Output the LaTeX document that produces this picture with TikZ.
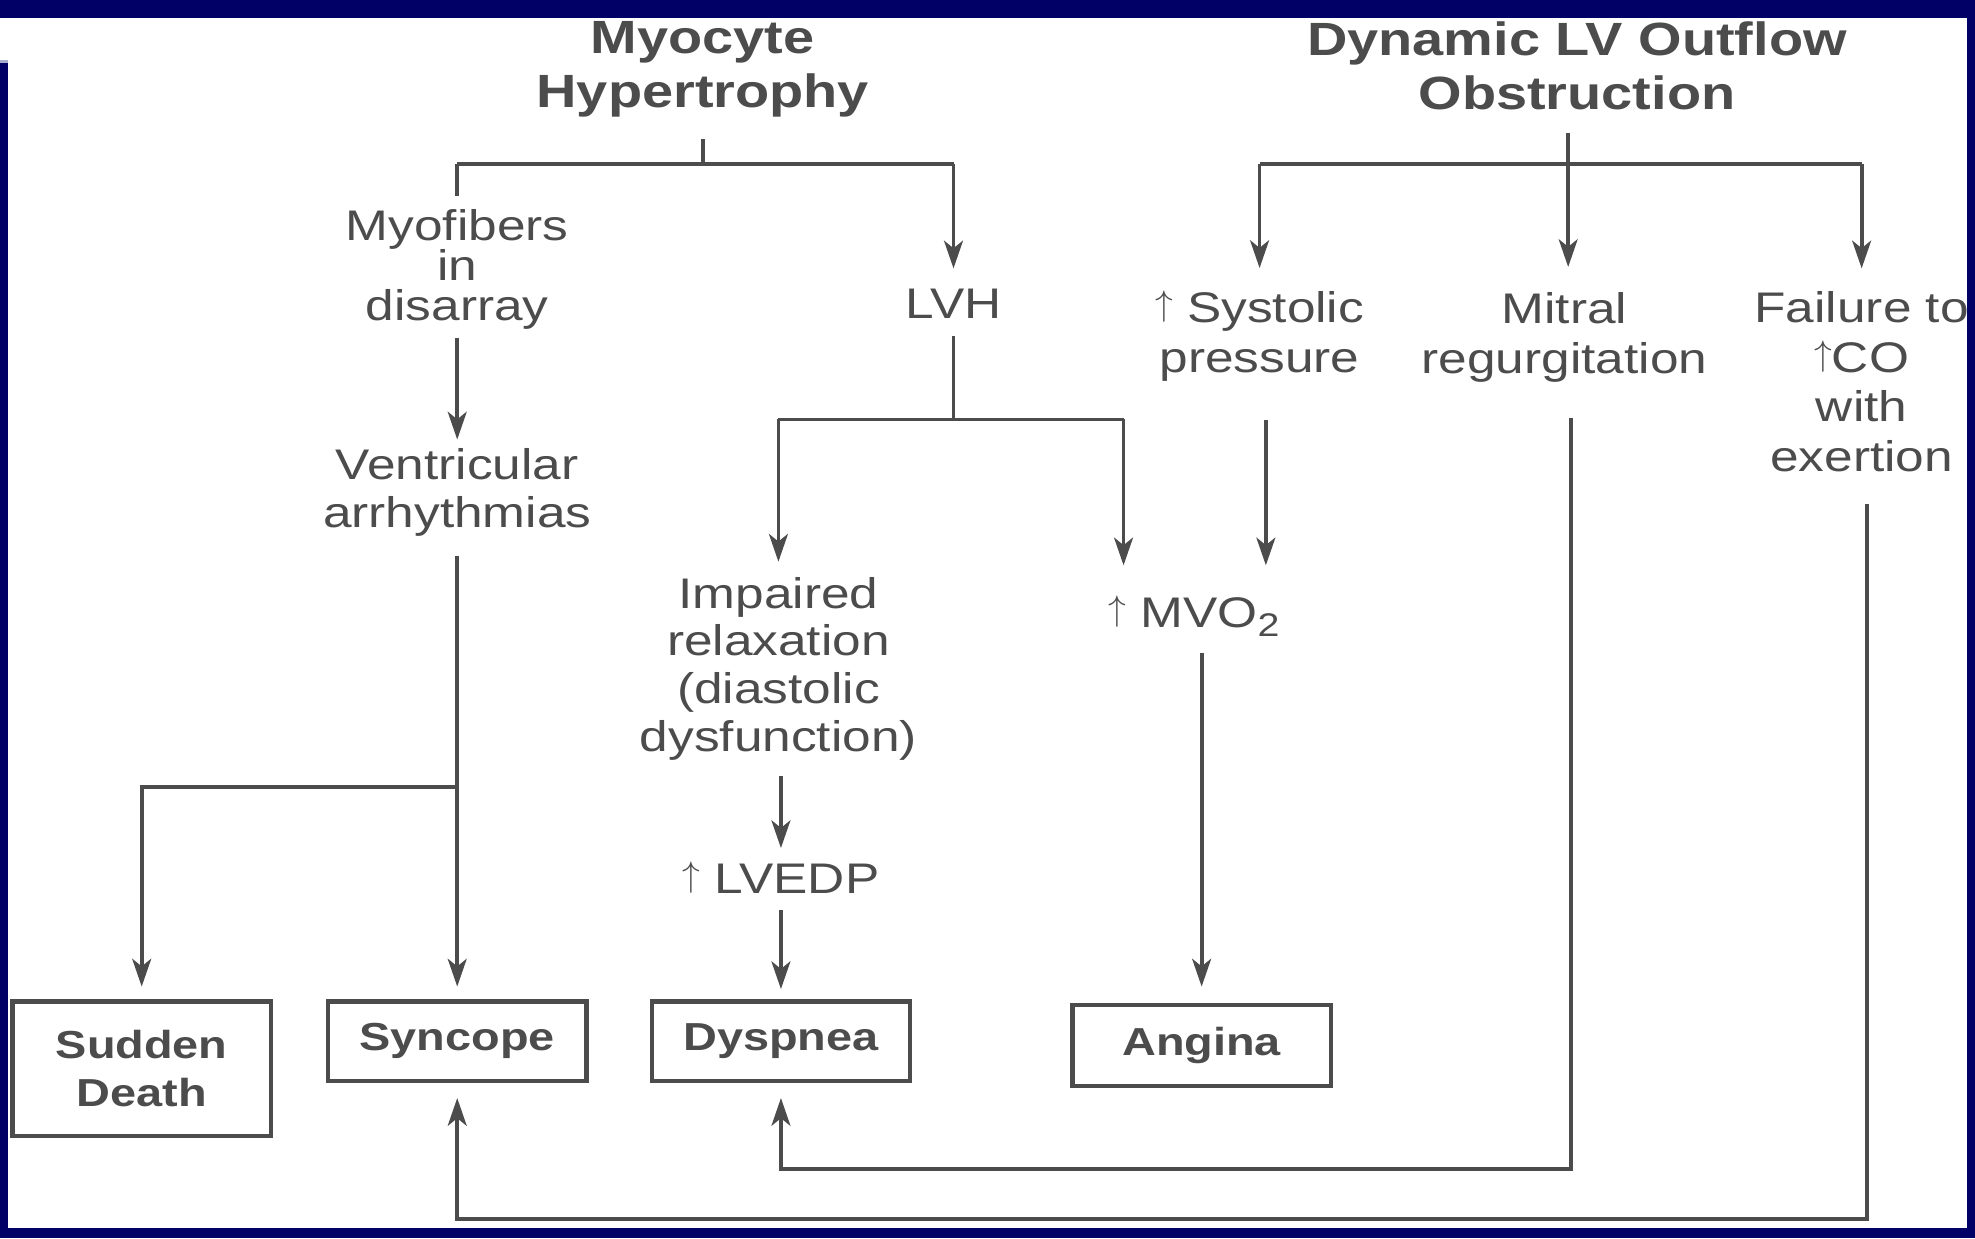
\documentclass[tikz,border=0pt]{standalone}
\usepackage{graphicx}
\usepackage{fontspec}
\setmainfont{Liberation Sans}[FakeStretch=1.2]
\usetikzlibrary{arrows.meta}
\definecolor{navy}{HTML}{000066}
\definecolor{ink}{HTML}{4C4C4C}
\definecolor{edge}{HTML}{A9AECF}
\newcommand{\upar}{\raisebox{5.4pt}{\resizebox*{!}{25pt}{$\uparrow$}}}
\newcommand{\subtwo}{\raisebox{-7pt}{\fontsize{26}{26}\selectfont 2}}
\begin{document}
\begin{tikzpicture}[x=1pt,y=-1pt,
  txt/.style={text=ink, align=center, inner sep=0pt, font=\fontsize{34}{38}\selectfont},
  ttl/.style={text=ink, align=center, inner sep=0pt, font=\fontsize{37}{43}\selectfont\bfseries},
  boxn/.style={draw=ink, line width=3.5pt, text=ink, align=center, inner sep=0pt, minimum width=205pt, font=\fontsize{31}{38}\selectfont\bfseries},
  ln/.style={draw=ink, line width=3pt},
  arr/.style={ln, -{Stealth[length=22pt,width=15pt,inset=6pt]}},
]
\useasboundingbox (0,0) rectangle (1568,983);
% slide background
\fill[navy] (0,0) rectangle (1568,983);
\fill[white] (6,14) rectangle (1562,975);
\fill[white] (0,14) rectangle (6,48);
\fill[edge] (0,48) rectangle (6,50);

% titles
\node[ttl] (t1) at (558,55) {Myocyte\\Hypertrophy};
\node[ttl] (t2) at (1252,52) {Dynamic LV Outflow\\Obstruction};

% text nodes
\node[txt, font=\fontsize{34}{32}\selectfont] (myo) at (363,214) {Myofibers\\in\\disarray};
\node[txt] (lvh) at (757,241) {LVH};
\node[txt] (vent) at (363,391) {Ventricular\\arrhythmias};
\node[txt, font=\fontsize{34}{40}\selectfont] (sys) at (1000,267) {\upar{} Systolic\\pressure};
\node[txt, font=\fontsize{34}{40}\selectfont] (mit) at (1242,268) {Mitral\\regurgitation};
\node[txt, font=\fontsize{34}{39.5}\selectfont] (fail) at (1478,303) {Failure to\\\upar{}CO\\with\\exertion};
\node[txt] (imp) at (618,531) {Impaired\\relaxation\\(diastolic\\dysfunction)};
\node[txt] (lvedp) at (620,697) {\upar{} LVEDP};
\node[txt] (mvo) at (948,489) {\upar{} MVO\subtwo};

% boxes
\node[boxn, minimum height=107pt] (sd) at (112.5,848.5) {Sudden\\Death};
\node[boxn, minimum height=63pt] (sync) at (363,826.5) {Syncope};
\node[boxn, minimum height=63pt] (dysp) at (620,826.5) {Dyspnea};
\node[boxn, minimum height=64pt] (ang) at (954,830) {Angina};

% junction coordinates
\coordinate (h1) at (558,130);
\coordinate (h1L) at (363,130);
\coordinate (h1R) at (757,130);
\coordinate (b1) at (363,625);
\coordinate (h2L) at (618,333);
\coordinate (h2R) at (892,333);
\coordinate (sx) at (1005,0);
\coordinate (h3M) at (1245,130);
\coordinate (h3L) at (1000,130);
\coordinate (h3R) at (1478,130);
\coordinate (mx) at (1247,928);
\coordinate (fx) at (1482,968);

% left tree
\draw[ln, shorten <=17pt] (t1.south) -- (h1);
\draw[ln] (h1L) -- (h1R);
\draw[ln, shorten >=10pt] (h1L) -- (myo.north);
\draw[arr, shorten >=16pt] (h1R) -- (lvh.north);
\draw[arr, shorten <=6pt, shorten >=7pt] (myo.south) -- (vent.north);
\draw[arr, shorten <=15pt, shorten >=10pt] (vent.south) -- (sync.north);
\draw[arr, shorten >=10pt] (b1) -| (sd.north);
\draw[ln, shorten <=14pt] (lvh.south) -- (lvh.south |- h2L);
\draw[ln] (h2L) -- (h2R);
\draw[arr, shorten >=12pt] (h2L) -- (imp.north);
\draw[arr, shorten >=24pt] (h2R) -- (h2R |- mvo.north);
\draw[arr, shorten <=12pt, shorten >=11pt] (imp.south -| lvedp.north) -- (lvedp.north);
\draw[arr, shorten <=13pt, shorten >=8pt] (lvedp.south) -- (dysp.north);
\draw[arr, shorten <=13pt, shorten >=13pt] (mvo.south -| ang.north) -- (ang.north);

% right tree
\draw[ln, shorten <=18pt] (t2.south -| h3M) -- (h3M);
\draw[ln] (h3L) -- (h3R);
\draw[arr, shorten >=18pt] (h3L) -- (sys.north);
\draw[arr, shorten >=20pt] (h3M) -- (h3M |- mit.north);
\draw[arr, shorten >=18pt] (h3R) -- (fail.north);
\draw[arr, shorten <=30pt, shorten >=24pt] (sx |- sys.south) -- (sx |- mvo.north);
\draw[arr, shorten <=28pt, shorten >=12pt] (mx |- mit.south) -- (mx) -| (dysp.south);
\draw[arr, shorten <=25pt, shorten >=12pt] (fx |- fail.south) -- (fx) -| (sync.south);

% right navy edge drawn over the text that runs past it
\fill[navy] (1562,14) rectangle (1568,975);
\end{tikzpicture}
\end{document}
